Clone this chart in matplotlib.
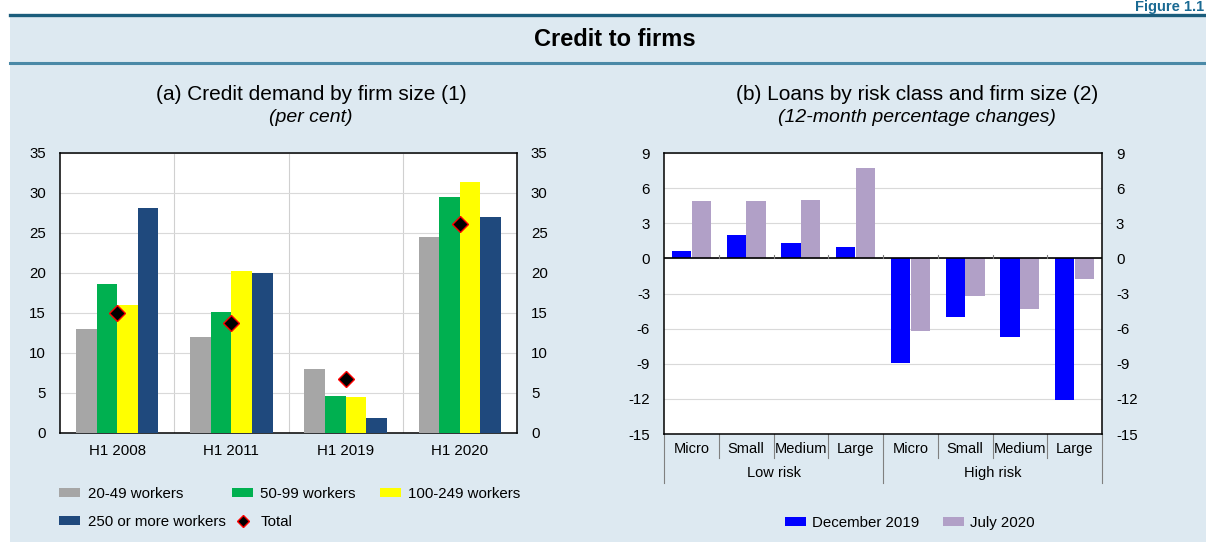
import matplotlib
matplotlib.use("Agg")
import matplotlib.pyplot as plt
import matplotlib.transforms as mtransforms
from matplotlib.patches import Rectangle, Patch
from matplotlib.lines import Line2D
import numpy as np

plt.rcParams['font.family'] = ['Liberation Sans', 'DejaVu Sans']
plt.rcParams['axes.unicode_minus'] = False

# data - panel (a)
periods = ["H1 2008", "H1 2011", "H1 2019", "H1 2020"]
workers_20_49 = [13.0, 12.0, 8.0, 24.5]
workers_50_99 = [18.6, 15.1, 4.6, 29.5]
workers_100_249 = [16.0, 20.3, 4.5, 31.4]
workers_250 = [28.1, 20.0, 1.9, 27.0]
total = [15.0, 13.7, 6.75, 26.1]

# data - panel (b)
sizes = ["Micro", "Small", "Medium", "Large", "Micro", "Small", "Medium", "Large"]
risk_groups = ["Low risk", "High risk"]
dec_2019 = [0.63, 2.02, 1.34, 0.97, -8.93, -5.0, -6.74, -12.06]
jul_2020 = [4.86, 4.89, 4.98, 7.73, -6.23, -3.24, -4.32, -1.76]

W, H = 1206, 542
bg = "#dde9f1"
fig = plt.figure(figsize=(W / 100, H / 100), dpi=100)
fig.patch.set_facecolor("white")

def fx(px):
    return px / W

def fy(py):
    return 1 - py / H

# light blue panel + header lines
bgrect = Rectangle((fx(10), 0), 1 - fx(10), fy(15), transform=fig.transFigure,
                   facecolor=bg, edgecolor="none", zorder=-5)
fig.add_artist(bgrect)
fig.add_artist(Line2D([fx(10), 1], [fy(15), fy(15)], color="#1b5d7c", lw=2.4))
fig.add_artist(Line2D([fx(10), 1], [fy(62.5), fy(62.5)], color="#4a89a7", lw=2.2))
fig.text(fx(1204), fy(0.5), "Figure 1.1", ha="right", va="top", fontsize=10.5,
         fontweight="bold", color="#1a6a93")
fig.text(fx(615), fy(40), "Credit to firms", ha="center", va="center", fontsize=17,
         fontweight="bold", color="black")

# panel titles
fig.text(fx(311), fy(95), "(a) Credit demand by firm size (1)", ha="center", va="center", fontsize=15)
fig.text(fx(311), fy(118), "(per cent)", ha="center", va="center", fontsize=14, style="italic")
fig.text(fx(917), fy(95), "(b) Loans by risk class and firm size (2)", ha="center", va="center", fontsize=15)
fig.text(fx(917), fy(118), "(12-month percentage changes)", ha="center", va="center", fontsize=14, style="italic")

tick_fs = 10.8

# ---------------- panel (a)
ax1 = fig.add_axes([fx(60), fy(433), fx(517 - 60), (433 - 153) / H])
ax1.set_zorder(3)
x = np.arange(len(periods))
bw = 0.18
series = [workers_20_49, workers_50_99, workers_100_249, workers_250]
colors = ["#a6a6a6", "#00b050", "#ffff00", "#1f497d"]
labels = ["20-49 workers", "50-99 workers", "100-249 workers", "250 or more workers"]
for i, (vals, c) in enumerate(zip(series, colors)):
    ax1.bar(x + (i - 1.5) * bw, vals, bw, color=c, zorder=3, label=labels[i])
ax1.plot(x, total, ls="none", marker="D", ms=8, mfc="black", mec="red", mew=1.0, zorder=4, label="Total")
ax1.set_xlim(-0.5, 3.5)
ax1.set_ylim(0, 35)
ax1.set_yticks(range(0, 36, 5))
ax1.set_xticks(x)
ax1.set_xticklabels(periods)
ax1.yaxis.grid(True, color="#d9d9d9", lw=0.8, zorder=0)
for b in [0.5, 1.5, 2.5]:
    ax1.axvline(b, color="#d0d0d0", lw=0.8, zorder=1)
ax1.tick_params(axis="y", length=0, pad=10, labelsize=tick_fs, left=True, right=True,
                labelleft=True, labelright=True)
ax1.tick_params(axis="x", length=0, pad=8, labelsize=tick_fs)
for s in ax1.spines.values():
    s.set_color("black")
    s.set_linewidth(1.1)

# legend of panel (a): three columns placed like the reference
def col_legend(hs, ls, xpx):
    lg = fig.legend(hs, ls, loc="upper left", bbox_to_anchor=(fx(xpx), fy(487)),
                    frameon=False, fontsize=tick_fs, handlelength=1.4, handleheight=0.55,
                    handletextpad=0.5, labelspacing=0.95, borderaxespad=0, borderpad=0)
    return lg

diamond = Line2D([], [], ls="none", marker="D", ms=6, mfc="black", mec="red", mew=1.0)
col_legend([Patch(facecolor=colors[0]), Patch(facecolor=colors[3])],
           [labels[0], labels[3]], 59)
col_legend([Patch(facecolor=colors[1]), diamond], [labels[1], "Total"], 232)
col_legend([Patch(facecolor=colors[2])], [labels[2]], 380)

# ---------------- panel (b)
ax2 = fig.add_axes([fx(664), fy(434), fx(1102 - 664), (434 - 153) / H])
ax2.set_zorder(3)
x2 = np.arange(len(sizes))
bw2 = 0.35
ax2.bar(x2 - 0.18, dec_2019, bw2, color="#0000ff", zorder=3, label="December 2019")
ax2.bar(x2 + 0.18, jul_2020, bw2, color="#b1a0c7", zorder=3, label="July 2020")
ax2.set_xlim(-0.5, 7.5)
ax2.set_ylim(-15, 9)
ax2.set_yticks(range(-15, 10, 3))
ax2.yaxis.grid(True, color="#d9d9d9", lw=0.8, zorder=0)
ax2.axhline(0, color="black", lw=1.2, zorder=4)
ax2.set_xticks([])
ax2.tick_params(axis="y", length=0, pad=10, labelsize=tick_fs, left=True, right=True,
                labelleft=True, labelright=True)
for s in ax2.spines.values():
    s.set_color("black")
    s.set_linewidth(1.1)

# small ticks on the zero line at category boundaries
for b in np.arange(0.5, 7.5, 1.0):
    ax2.plot([b, b], [0, 0.3], color="#808080", lw=0.8, zorder=4)

# category table below the axis
blend = mtransforms.blended_transform_factory(ax2.transData, ax2.transAxes)
for i, s in enumerate(sizes):
    ax2.text(i, -0.053, s, transform=blend, ha="center", va="center", fontsize=10.5, clip_on=False)
for b in np.arange(0.5, 7.5, 1.0):
    if b == 3.5:
        continue
    ax2.plot([b, b], [0, -0.085], transform=blend, color="#808080", lw=0.8, clip_on=False)
for b in [-0.5, 3.5, 7.5]:
    ax2.plot([b, b], [0, -0.175], transform=blend, color="#808080", lw=0.8, clip_on=False)
for j, g in enumerate(risk_groups):
    ax2.text(1.5 + 4 * j, -0.14, g, transform=blend, ha="center", va="center", fontsize=10.5, clip_on=False)

h2, l2 = ax2.get_legend_handles_labels()
fig.legend(h2, l2, ncol=2, loc="center left", bbox_to_anchor=(fx(779), fy(523)),
           frameon=False, fontsize=tick_fs, handlelength=1.4, handleheight=0.55,
           handletextpad=0.4, columnspacing=1.6, borderaxespad=0)

ax1.set_facecolor("white")
ax2.set_facecolor("white")

fig.savefig("out.png", dpi=100, facecolor=fig.get_facecolor())
